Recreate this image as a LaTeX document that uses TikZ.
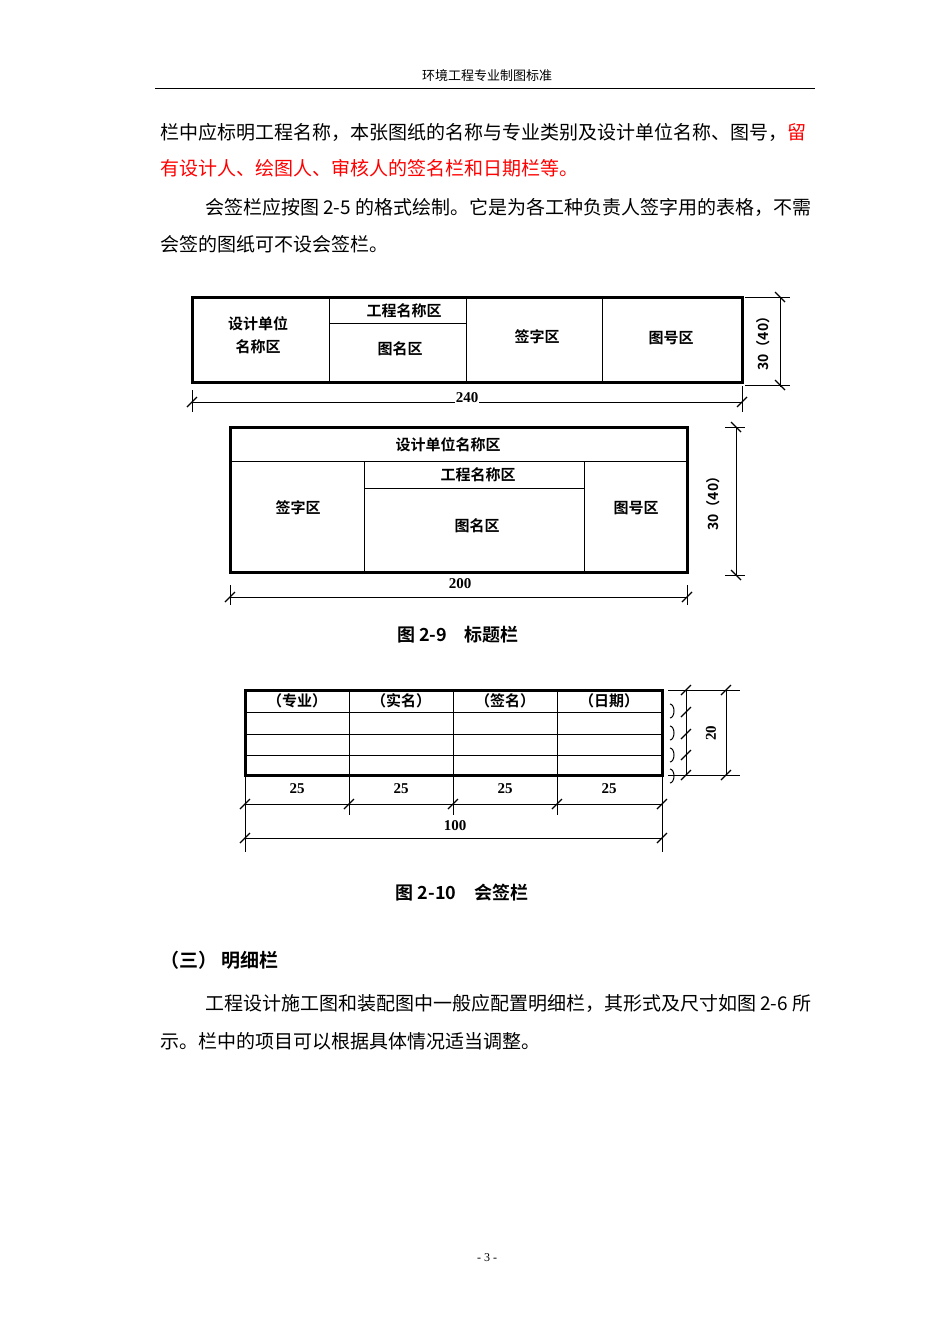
\documentclass[tikz,border=0pt]{standalone}
\usepackage{fontspec}
\setmainfont{Liberation Serif}
\newfontfamily\cjk{Noto Sans CJK SC}
\newfontfamily\cjkb{Noto Sans CJK SC Bold}
\begin{document}
\begin{tikzpicture}[x=1pt,y=-1pt,
  body/.style={anchor=west,inner sep=0,font=\cjk\fontsize{19}{20}\selectfont},
  cell/.style={inner sep=0,font=\cjkb\fontsize{15}{16}\selectfont},
  dimt/.style={inner sep=1pt,font=\fontsize{15}{16}\selectfont\bfseries},
  dimc/.style={inner sep=1pt,font=\cjkb\fontsize{14}{15}\selectfont},
  thick3/.style={line width=3pt},
  thin1/.style={line width=1pt},
  tk/.style={line width=1.3pt}]
\useasboundingbox (0,0) rectangle (950,1344);
\fill[white] (0,0) rectangle (950,1344);
% header
\node[inner sep=0,font=\cjk\fontsize{13}{14}\selectfont] (hdr) at (487,76) {环境工程专业制图标准};
\draw[line width=0.8pt] (155,88) -- (815,88);
\node[body] (p1) at (160,132) {栏中应标明工程名称，本张图纸的名称与专业类别及设计单位名称、图号，\textcolor{red}{留}};
\node[body,text=red] (p2) at (160,168) {有设计人、绘图人、审核人的签名栏和日期栏等。};
\node[body] (p3) at (205,207) {会签栏应按图 2-5 的格式绘制。它是为各工种负责人签字用的表格，不需};
\node[body] (p4) at (160,244) {会签的图纸可不设会签栏。};
% table 1
\draw[thick3] (192,297) rectangle (742,382);
\draw[thin1] (329,297)--(329,382) (466,297)--(466,382) (602,297)--(602,382) (329,323)--(466,323);
\node[cell] (a1) at (258,324) {设计单位};
\node[cell] (a2) at (258,347) {名称区};
\node[cell] (a3) at (404,311) {工程名称区};
\node[cell] (a4) at (400,349) {图名区};
\node[cell] (a5) at (537,337) {签字区};
\node[cell] (a6) at (671,338) {图号区};
\draw[thin1] (780,297)--(780,387) (745,297)--(790,297) (745,385)--(790,385);
\draw[tk] (775,292)--(785,302) (775,380)--(785,390);
\node[dimc,rotate=90] (d1) at (763,340) {30（40）};
\draw[thin1] (192,402)--(742,402) (192,390)--(192,412) (742,386)--(742,412);
\draw[tk] (187,407)--(197,397) (737,407)--(747,397);
\node[dimt,fill=white] (d2) at (467,398) {240};
% table 2
\draw[thick3] (230,427) rectangle (687,572);
\draw[thin1] (230,461)--(687,461) (364,461)--(364,572) (584,461)--(584,572) (364,488)--(584,488);
\node[cell] (b1) at (448,445) {设计单位名称区};
\node[cell] (b2) at (478,475) {工程名称区};
\node[cell] (b3) at (298,508) {签字区};
\node[cell] (b4) at (477,526) {图名区};
\node[cell] (b5) at (636,508) {图号区};
\draw[thin1] (736,427)--(736,576) (725,427)--(745,427) (725,575)--(745,575);
\draw[tk] (731,422)--(741,432) (731,570)--(741,580);
\node[dimc,rotate=90] (d3) at (713,500) {30（40）};
\draw[thin1] (230,597)--(687,597) (230,585)--(230,605) (687,585)--(687,605);
\draw[tk] (225,602)--(235,592) (682,602)--(692,592);
\node[dimt,fill=white] (d4) at (460,584) {200};
\node[inner sep=0,font=\cjkb\fontsize{18}{19}\selectfont] (c1) at (458,635) {图 2-9\quad 标题栏};
% table 3
\draw[thin1] (245,712)--(662,712) (245,734)--(662,734) (245,755)--(662,755);
\draw[thin1] (349,690)--(349,815) (453,690)--(453,815) (557,690)--(557,815);
\draw[thick3] (245,690) rectangle (662,775);
\foreach \t/\x in {（专业）/297,（实名）/401,（签名）/505,（日期）/609}
  \node[cell] at (\x,701) {\t};
\foreach \y in {690,712,734,755}
  \draw[thin1] (670,\y+14) arc (-90:90:4 and 7);
\draw[thin1] (686,690)--(686,775) (726,690)--(726,775) (668,690)--(740,690) (668,775)--(740,775);
\foreach \y in {690,712,734,755,775} \draw[tk] (681,\y+5)--(691,\y-5);
\draw[tk] (721,695)--(731,685) (721,780)--(731,770);
\node[dimt,rotate=90] (d5) at (711,733) {20};
\draw[thin1] (245,775)--(245,852) (662,775)--(662,852) (245,804)--(662,804) (245,838)--(662,838);
\foreach \x in {245,349,453,557,662} \draw[tk] (\x-5,809)--(\x+5,799);
\draw[tk] (240,843)--(250,833) (657,843)--(667,833);
\foreach \x in {297,401,505,609} \node[dimt] at (\x,789) {25};
\node[dimt] (d6) at (455,826) {100};
\node[inner sep=0,font=\cjkb\fontsize{18}{19}\selectfont] (c2) at (462,893) {图 2-10\quad 会签栏};
\node[anchor=west,inner sep=0,font=\cjkb\fontsize{19}{20}\selectfont] (h3) at (160,960) {（三）\ 明细栏};
\node[body] (p5) at (205,1003) {工程设计施工图和装配图中一般应配置明细栏，其形式及尺寸如图 2-6 所};
\node[body] (p6) at (160,1041) {示。栏中的项目可以根据具体情况适当调整。};
\node[inner sep=0,font=\fontsize{12}{13}\selectfont] (ft) at (487,1258) {- 3 -};
\end{tikzpicture}
\end{document}
